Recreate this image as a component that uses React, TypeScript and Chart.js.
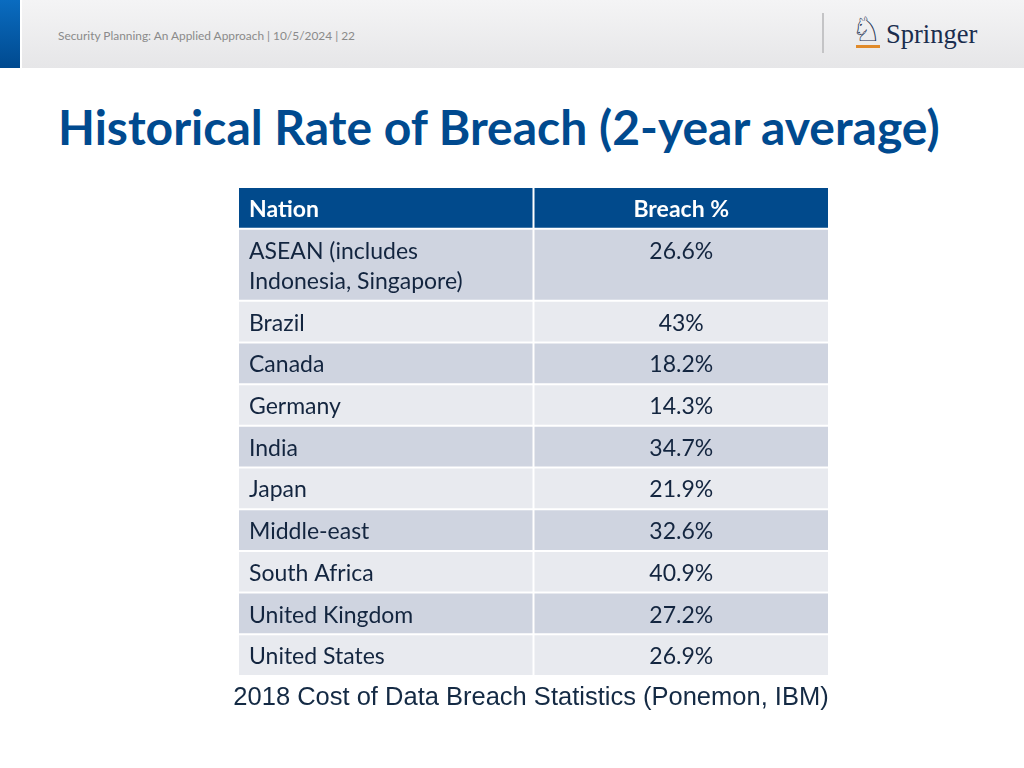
import React, { useEffect, useRef } from "react";
import { Chart, registerables } from "chart.js";

Chart.register(...registerables);

// ---- data ----
const columns = ["Nation", "Breach %"];
const nations = [
  "ASEAN (includes\nIndonesia, Singapore)",
  "Brazil",
  "Canada",
  "Germany",
  "India",
  "Japan",
  "Middle-east",
  "South Africa",
  "United Kingdom",
  "United States",
];
const breach = ["26.6%", "43%", "18.2%", "14.3%", "34.7%", "21.9%", "32.6%", "40.9%", "27.2%", "26.9%"];
const headerText = "Security Planning: An Applied Approach | 10/5/2024 | 22";
const titleText = "Historical Rate of Breach (2-year average)";
const captionText = "2018 Cost of Data Breach Statistics (Ponemon, IBM)";

// ---- styles ----
const HEADER_BLUE = "#014a8c";
const ROW_DARK = "#cfd4e0";
const ROW_LIGHT = "#e8eaef";
const TEXT_NAVY = "#13253f";
const LINE_UNIT = 0.73;
const PAD_UNIT = 0.27;

const rows: string[][] = [columns, ...nations.map((n, i) => [n, breach[i]])];

export default function App() {
  const canvasRef = useRef<HTMLCanvasElement | null>(null);

  useEffect(() => {
    if (!canvasRef.current) return;
    let acc = 0;
    const spans = rows.map((r) => {
      const lines = Math.max(...r.map((c) => c.split("\n").length));
      const s: [number, number] = [acc, acc + PAD_UNIT + LINE_UNIT * lines];
      acc = s[1];
      return s;
    });
    const total = acc;

    const textPlugin = {
      id: "cellText",
      afterDatasetsDraw(chart: any) {
        const ctx = chart.ctx;
        ctx.save();
        chart.data.datasets.forEach((_ds: any, i: number) => {
          const meta = chart.getDatasetMeta(i);
          meta.data.forEach((bar: any, j: number) => {
            const p = bar.getProps(["x", "y", "base", "width"], true);
            const top = Math.min(p.y, p.base);
            const lines = rows[i][j].split("\n");
            ctx.font = i === 0 ? "bold 23px Lato" : "23px Lato";
            ctx.fillStyle = i === 0 ? "#ffffff" : TEXT_NAVY;
            ctx.textBaseline = "middle";
            ctx.textAlign = j === 0 ? "left" : "center";
            const tx = j === 0 ? p.x - p.width / 2 + 11 : p.x;
            lines.forEach((ln, k) => ctx.fillText(ln, tx, top + 22.5 + k * 30.5));
          });
        });
        ctx.restore();
      },
    };

    const chart = new Chart(canvasRef.current, {
      type: "bar",
      data: {
        labels: columns,
        datasets: rows.map((r, i) => ({
          label: r[0],
          data: [spans[i], spans[i]] as any,
          backgroundColor: i === 0 ? HEADER_BLUE : i % 2 === 1 ? ROW_DARK : ROW_LIGHT,
          borderColor: "#ffffff",
          borderWidth: 1,
          borderSkipped: false,
          inflateAmount: 0,
          grouped: false,
          categoryPercentage: 1,
          barPercentage: 1,
        })),
      },
      options: {
        responsive: false,
        animation: false,
        layout: { padding: { left: 238, right: 195, top: 187, bottom: 92 } },
        plugins: { legend: { display: false }, tooltip: { enabled: false }, title: { display: false } },
        scales: {
          x: { type: "category", display: false, offset: true, grid: { display: false } },
          y: { type: "linear", display: false, reverse: true, min: 0, max: total },
        },
      } as any,
      plugins: [textPlugin],
    });
    return () => chart.destroy();
  }, []);

  return (
    <div style={{ position: "absolute", left: 0, top: 0, width: 1024, height: 768, background: "#fff", overflow: "hidden" }}>
      {/* header band */}
      <div style={{ position: "absolute", left: 22, top: 0, width: 1002, height: 68, background: "linear-gradient(#f4f4f5, #e6e6e8)" }} />
      <div style={{ position: "absolute", left: 0, top: 0, width: 20, height: 68, background: "linear-gradient(#0a6cc0, #004a8f)" }} />
      <div style={{ position: "absolute", left: 58, top: 28, fontFamily: "Lato", fontSize: 11.9, color: "#8a8a8a", lineHeight: "16px", whiteSpace: "nowrap" }}>
        {headerText}
      </div>
      <div style={{ position: "absolute", left: 822, top: 13, width: 2, height: 40, background: "#c4c4c6" }} />
      <div style={{ position: "absolute", left: 851, top: 9, fontFamily: "DejaVu Sans", fontSize: 34, lineHeight: "40px", color: "#1a2d4e" }}>♘</div>
      <div style={{ position: "absolute", left: 856, top: 45, width: 24, height: 3, background: "#e08a2a" }} />
      <div style={{ position: "absolute", left: 886, top: 18, fontFamily: "Liberation Serif", fontSize: 26.5, lineHeight: "32px", color: "#1a2d4e", whiteSpace: "nowrap" }}>
        Springer
      </div>
      {/* title */}
      <div style={{ position: "absolute", left: 58, top: 99, fontFamily: "Lato", fontWeight: 700, fontSize: 48, lineHeight: "56px", color: "#004a8f", whiteSpace: "nowrap" }}>
        {titleText}
      </div>
      <canvas ref={canvasRef} width={1024} height={768} style={{ position: "absolute", left: 0, top: 0 }} />
      {/* caption */}
      <div style={{ position: "absolute", left: 0, width: 1062, top: 681, textAlign: "center", fontFamily: "Liberation Sans", fontSize: 25.5, lineHeight: "30px", color: "#142a44", whiteSpace: "nowrap" }}>
        {captionText}
      </div>
    </div>
  );
}
